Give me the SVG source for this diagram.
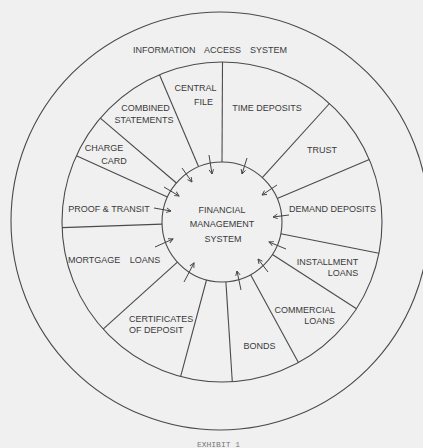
<svg xmlns="http://www.w3.org/2000/svg" width="423" height="448" viewBox="0 0 423 448">
  <defs>
    <style>
      .ring { fill: none; stroke: #4a4a4a; stroke-width: 1.1; }
      .spoke { fill: none; stroke: #4a4a4a; stroke-width: 1.1; }
      .arrow { fill: none; stroke: #444; stroke-width: 1; marker-end: url(#head); }
      text { font-family: "Liberation Sans", Arial, sans-serif; font-size: 9px; fill: #3a3a3a; }
      .mid { text-anchor: middle; }
      .caption { font-family: "Liberation Mono", "Courier New", monospace; font-size: 8px; fill: #777; text-anchor: middle; }
    </style>
    <marker id="head" viewBox="0 0 8 8" refX="7" refY="4" markerWidth="6" markerHeight="6" markerUnits="userSpaceOnUse" orient="auto">
      <path d="M1,1 L7,4 L1,7" fill="none" stroke="#444" stroke-width="1.2"/>
    </marker>
  </defs>

  <rect width="423" height="448" fill="#f0f0f0"/>

  <!-- outer ring: information access system -->
  <g id="information-access-system">
    <circle class="ring" cx="220" cy="221" r="209"/>
    <text class="mid" x="210" y="52.5" word-spacing="6.5">INFORMATION ACCESS SYSTEM</text>
  </g>

  <!-- application ring with sector boundaries -->
  <g id="application-ring">
    <circle class="ring" cx="222" cy="222" r="160"/>
    <line class="spoke" x1="198.6" y1="166.8" x2="159.5" y2="74.7"/>
    <line class="spoke" x1="222" y1="162" x2="222.5" y2="62"/>
    <line class="spoke" x1="262.3" y1="177.6" x2="329.5" y2="103.5"/>
    <line class="spoke" x1="277.2" y1="198.6" x2="369.3" y2="159.5"/>
    <line class="spoke" x1="176.4" y1="183.0" x2="100.3" y2="118.1"/>
    <line class="spoke" x1="167.4" y1="197.1" x2="76.4" y2="155.7"/>
    <line class="spoke" x1="162.0" y1="224.1" x2="62.1" y2="227.6"/>
    <line class="spoke" x1="177.4" y1="262.2" x2="103.1" y2="329.1"/>
    <line class="spoke" x1="206.5" y1="280.0" x2="180.6" y2="376.6"/>
    <line class="spoke" x1="225.9" y1="281.9" x2="232.3" y2="381.7"/>
    <line class="spoke" x1="250.6" y1="274.7" x2="298.4" y2="362.6"/>
    <line class="spoke" x1="272.4" y1="254.5" x2="356.5" y2="308.7"/>
    <line class="spoke" x1="280.8" y1="233.8" x2="378.9" y2="253.3"/>
  </g>

  <!-- hub -->
  <g id="financial-management-system">
    <circle class="ring" cx="222" cy="222" r="60" stroke-width="1.3"/>
    <text class="mid" x="222" y="212.5">FINANCIAL</text>
    <text class="mid" x="222" y="226.5">MANAGEMENT</text>
    <text class="mid" x="223" y="241.5">SYSTEM</text>
  </g>

  <!-- application sectors -->
  <g id="central-file">
    <text class="mid" x="195.5" y="90.5">CENTRAL</text>
    <text class="mid" x="203.5" y="104.5">FILE</text>
  </g>
  <g id="time-deposits">
    <text class="mid" x="267" y="110.5">TIME DEPOSITS</text>
  </g>
  <g id="trust">
    <text class="mid" x="322" y="153.3">TRUST</text>
  </g>
  <g id="demand-deposits">
    <text class="mid" x="332.5" y="212">DEMAND DEPOSITS</text>
  </g>
  <g id="installment-loans">
    <text class="mid" x="327.5" y="264.5">INSTALLMENT</text>
    <text class="mid" x="343" y="275.6">LOANS</text>
  </g>
  <g id="commercial-loans">
    <text class="mid" x="305" y="313.3">COMMERCIAL</text>
    <text class="mid" x="319.5" y="324">LOANS</text>
  </g>
  <g id="bonds">
    <text class="mid" x="259.5" y="349.3">BONDS</text>
  </g>
  <g id="certificates-of-deposit">
    <text x="129" y="322">CERTIFICATES</text>
    <text x="129" y="332.6">OF DEPOSIT</text>
  </g>
  <g id="mortgage-loans">
    <text x="68" y="262.5" word-spacing="7">MORTGAGE LOANS</text>
  </g>
  <g id="proof-and-transit">
    <text class="mid" x="109" y="211.6">PROOF &amp; TRANSIT</text>
  </g>
  <g id="charge-card">
    <text class="mid" x="104" y="151">CHARGE</text>
    <text class="mid" x="114" y="164">CARD</text>
  </g>
  <g id="combined-statements">
    <text class="mid" x="145.5" y="110.6">COMBINED</text>
    <text class="mid" x="144" y="122.6">STATEMENTS</text>
  </g>

  <!-- data flows into the hub -->
  <g id="connectors">
    <line class="arrow" x1="209" y1="155" x2="212" y2="174"/>
    <line class="arrow" x1="247" y1="158" x2="242" y2="174"/>
    <line class="arrow" x1="182" y1="168" x2="192" y2="182"/>
    <line class="arrow" x1="164" y1="187" x2="179" y2="196"/>
    <line class="arrow" x1="277" y1="185" x2="262" y2="195"/>
    <line class="arrow" x1="154" y1="208" x2="171" y2="211"/>
    <line class="arrow" x1="289" y1="215" x2="273" y2="217"/>
    <line class="arrow" x1="155" y1="247" x2="173" y2="239"/>
    <line class="arrow" x1="286" y1="249" x2="269" y2="242"/>
    <line class="arrow" x1="184" y1="282" x2="194" y2="263"/>
    <line class="arrow" x1="268" y1="272" x2="258" y2="259"/>
    <line class="arrow" x1="241" y1="290" x2="237" y2="271"/>
  </g>

  <text class="caption" x="218.5" y="446.5">EXHIBIT 1</text>
</svg>
